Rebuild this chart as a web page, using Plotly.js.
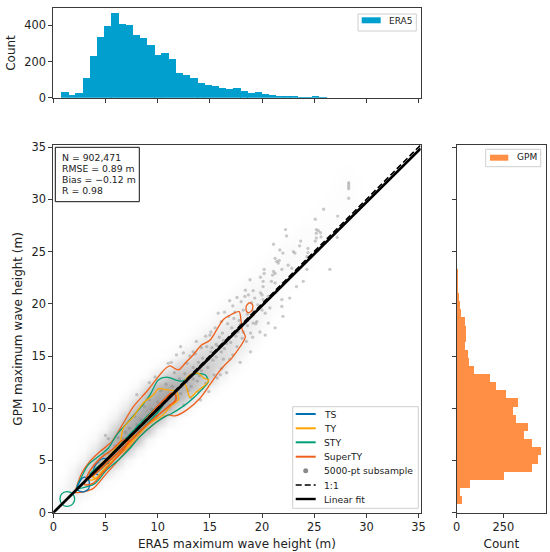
<!DOCTYPE html>
<html><head><meta charset="utf-8">
<script src="https://cdn.plot.ly/plotly-3.0.1.min.js"></script>
<style>html,body{margin:0;padding:0;background:#fff}#c{width:550px;height:552px}</style>
</head><body><div id="c"></div>
<script>
const eraCenters=[1.11,1.80,2.48,3.17,3.86,4.54,5.23,5.92,6.60,7.29,7.97,8.66,9.35,10.03,10.72,11.41,12.09,12.78,13.46,14.15,14.84,15.52,16.21,16.90,17.58,18.27,18.95,19.64,20.33,21.01,21.70,22.39,23.07,23.76,24.44,25.13,25.82,26.50,27.19,27.88];
const eraCounts=[31,15,25,110,228,335,396,470,407,404,346,332,289,238,245,212,138,125,107,81,68,66,52,46,53,37,28,31,20,15,9,7,7,3,2,9,4,1,1,1];
const gpmCenters=[1.24,2.01,2.79,3.56,4.34,5.11,5.89,6.66,7.44,8.21,8.99,9.76,10.54,11.31,12.09,12.86,13.64,14.41,15.19,15.96,16.74,17.51,18.29,19.06,19.84,20.61,21.39,22.16,22.94,23.71,24.49,25.26,26.04,26.81,27.59,28.36,29.14,29.91,30.69,31.46];
const gpmCounts=[29,16,73,255,402,434,450,403,362,384,316,302,327,262,212,179,91,68,59,43,48,50,43,25,18,10,8,6,5,4,3,2,2,2,3,3,1,1,1,1];

// Background density: one row per integer y, first number = first integer x of the row.
const hazeRows=[
[0,8,3],[0,6,15,6],[1,10,25,10],[1,3,20,45,25,4],[2,12,45,70,40,8],[2,2,15,60,85,55,10],[3,4,25,75,95,65,12],
[3,1,8,40,88,100,70,12],[4,2,12,55,95,100,70,15],[5,3,18,65,98,100,75,20,3],[6,5,25,70,100,100,85,35,6],
[7,6,30,75,95,100,85,45,10,1],[8,8,40,75,90,90,80,50,14,2],[9,6,30,60,70,72,65,50,14,2],[10,4,16,45,55,58,52,38,12,2],
[11,3,10,30,44,46,42,30,10],[12,2,8,26,36,38,34,22,6],[13,2,7,20,28,30,26,12,3],[14,2,6,16,22,24,18,6,1],
[15,2,6,12,18,18,10,3],[16,2,6,10,14,12,6,2],[17,2,6,10,11,8,3],[18,2,6,8,9,6,2],[19,2,5,7,7,4,1],[20,2,4,6,6,3,1],
[21,2,4,5,4,2],[22,2,3,4,3,1],[23,1,3,3,3,1],[24,1,2,3,2,1],[25,1,2,3,2],[26,1,2,3,1],[27,1,3,1],[27,1,2,1],[28,1]];

const subsamplePoints=[[28.3,31.6],[28.3,31.4],[28.3,31.2],[28.3,31.0],[28.3,30.1],[25.9,29.05],[27.25,28.4],[25.1,28.1],[22.25,27.1],[22.35,26.5],[25.2,27.1],[25.4,27],[25.6,26.8],[25.2,26.75],[25.65,26.4],[25.2,26.3],[25.1,26],[27.2,26.35],[26.5,23.3],[21.1,25.7],[23.7,26],[23.6,25.55],[21.7,25.15],[22,24.85],[23,25],[23.15,24.85],[24.4,25.3],[24.4,24.9],[24.3,24.5],[21.25,24.35],[21.4,24.05],[21.55,23.9],[21.65,24.15],[22.5,23.7],[22.85,23.4],[24.3,23.3],[20.2,23.3],[21.9,23.3],[21.1,23.1],[21.25,22.9],[21,22.75],[20.2,22.9],[19.85,22.55],[18.85,22.3],[20.1,22.15],[20.9,22.15],[21.25,22],[22,22],[23.95,22.15],[23.3,21.65],[20.1,21.65],[19.85,21.05],[19.15,21.25],[20,20.85],[20.1,20.4],[18.7,20.85],[18.35,20.7],[19.3,20.55],[20.6,20.7],[21.9,20.4],[22.65,20.55],[21.9,19.75],[20.75,19.6],[22,18.8],[20.6,18.15],[19.5,18.3],[19.15,18.15],[18,20.2],[21.25,17.7],
[5,7.4],[5.27,7.1],[8,11.3],[9.2,12.46],[9.75,13],[11,14.3],[11.3,14.4],[11.8,15.1],[12.46,15.3],[13.4,15.4],[14.6,16.9],[15.1,17.3],[13.7,16.4],[12.2,15.9],[16.4,19.2],[17.2,19.8],[15.8,19.1],[16.9,20.3],[17.6,20.6],[18.2,19.4],[18.4,21.3],[17.3,18.6],[19.6,19.9],[19.2,19.3],[20.3,19.1],[19.8,17.3],[19.1,16.8],[18.6,17.9],[20.3,17],[18.9,15.4],[17.9,14.4],[16.6,13.4],[17.2,15.1],[16.3,14.7],[15.7,12.9],[14.9,11.6],[14.1,10.8],[18.1,16.7],[17.7,17.3],[18.6,18.4],[17.1,17.7],[16.7,18.1],[16.2,17.2],[15.6,16.1],[15.9,16.8],[16.6,16.2],[16.1,15.4],[15.3,14.6],[15.1,15.4],[14.7,15.9],[14.3,14.8],[14.2,13.6],[13.8,12.6],[13.2,12.1],[13.9,14.4],[13.4,13.9],[12.8,14.3],[12.6,13.3],[12.1,12.8],[11.6,13.4],[12.2,11.4],[11.7,10.9],[11.1,10.2],[11.4,12.1],[10.8,12.3],[10.3,11.7],[10.6,10.7],[9.9,9.2],[9.4,9.9],[9.2,10.8],[8.7,10.2],[8.4,8.9],[8.2,7.7],[7.8,9.2],[7.3,8.1],[6.9,7.7],[6.6,6.4],[6.2,7.2],[5.9,6.4],[5.3,5.7],[4.8,5.6],[4.3,4.8],[13.1,15],[13.6,15.2],[14.2,15.8],[15,17],[15.5,17.7],[16.1,18.3],[16.8,18.8],[17.4,19.2],[17.8,18.4],[18.2,17.3],[18.5,16.4],[17.6,15.9],[16.9,14.7],[16.1,13.8],[15.4,13.2],[14.6,12.4],[13.9,11.6],[13.2,11],[12.5,10.3],[12.9,11.7],[13.4,12.8],[14,13.1],[14.8,13.9],[15.6,14.9],[16.4,15.7],[17,16.3],[17.5,16.9],[16,13.2],[19.4,18.1],[18.9,17.2],[20,19.4],[19,20.1],[18.6,19],[17.9,18],[17.3,17.2],[16.8,16.8],[16.3,16.5],[15.8,15.9],[15.2,15.8],[14.9,14.7],[14.4,14.2],[13.7,13.6],[13.3,13.2],[12.8,12.5],[12.3,12.1],[11.8,11.7],[11.3,11.2],[10.9,11],[10.4,10.2],[10,10.6],[9.6,9.4],[9,9.2],[8.6,8.5],[8,8.4],[7.6,7.4],[7.2,7],[6.7,7.1],[6.3,6.1],[5.8,5.6]];

const tsInner=[[3.85,4.1],[4.3,4.9],[4.8,5.2],[5.27,5.05],[5.27,4.6],[4.8,3.93],[4.3,3.6],[3.85,4.1]];
const tsOuter=[[2.3,2.2],[2.5,2.9],[2.95,3.4],[3.4,3.1],[3.4,2.3],[2.9,2.0],[2.3,2.2]];
const tyOuter=[[3.5,3.45],[4.3,4.4],[5.27,5.37],[6.4,6.8],[6.7,8.08],[7.67,9.2],[8.6,10.48],[9.58,11.28],[10.06,11.85],[11,11.75],[11.8,11.6],[12,10.8],[11.34,10.3],[10.5,9.36],[9.27,8.56],[8,7.28],[6.7,5.85],[5.43,4.73],[4.15,3.3],[3.5,3.13],[3.5,3.45]];
const tyInner=[[3.8,3.4],[4.2,4.0],[5,4.9],[6,5.9],[7,6.8],[7.7,7.45],[7.65,7.05],[6.8,6.1],[5.7,5.0],[4.7,4.0],[4.1,3.3],[3.8,3.4]];
const tyIsland=[[12.6,12.55],[13.1,13.2],[13.9,13.35],[14.4,12.9],[14.9,12.7],[14.4,12.1],[13.75,11.6],[13.1,11.05],[12.8,11.9],[12.6,12.55]];
const styOuter=[[2.24,2.33],[2.72,3.45],[3.35,4.57],[4.3,5.37],[5.27,6.17],[6.07,7.44],[7.19,8.72],[8.3,10],[9.27,11.28],[10.06,12.7],[10.86,12.97],[12.3,12.6],[13.58,13.3],[14.54,13.2],[14.86,12.56],[14.2,11.76],[13.4,10.96],[12.46,10.2],[11.34,9.5],[10.7,9.2],[9.74,8.56],[8.3,7.28],[7.35,6.17],[6.23,5.05],[5.1,4.09],[4,2.8],[2.88,2.4],[2.24,2.33]];
const styInner=[[3.5,3.7],[5,5],[6.5,6.6],[8,8.2],[9.5,9.7],[10.3,10.4],[10.45,10.25],[10,9.6],[8.5,8],[7,6.5],[5.5,5.1],[4.2,3.9],[3.5,3.7]];
const styLow=[[0.64,1.3],[0.8,1.8],[1.3,2.02],[1.85,1.8],[2.05,1.3],[1.85,0.82],[1.35,0.6],[0.85,0.8],[0.64,1.3]];
const superOuter=[[2.08,2.0],[2.72,3.77],[3.5,4.9],[4.47,5.85],[5.6,6.8],[6.7,8.56],[7.67,10.16],[8.95,11.6],[10.2,13.2],[10.86,13.9],[11.2,14.05],[11.97,13.67],[12.8,14.5],[13.4,15.1],[14.2,16.05],[15,16.5],[15.65,17.5],[16.3,18.5],[17.1,19],[17.8,19.25],[18,18.3],[18.1,17.5],[18.4,16.85],[18.1,16.2],[17.7,15.6],[17.1,14.8],[16.3,14],[15.65,13.2],[15,12.25],[14.05,10.96],[12.8,9.84],[11.66,9.27],[11,9.36],[10.2,8.9],[8.6,7.6],[7.67,6.65],[6.4,5.2],[5.1,3.77],[3.83,2.33],[2.9,2],[2.08,1.92]];
const superMid=[[3,2.7],[3.5,4],[4.5,5.2],[5.6,6],[6.6,6.9],[7.2,7],[6.8,6.1],[5.8,5],[4.8,3.9],[3.8,2.8],[3,2.7]];
const superInner=[[3.5,3.4],[4.2,4.2],[5.5,5.4],[7,6.95],[8.5,8.5],[10,10.2],[10.8,11.0],[11.3,11.45],[11.7,11.3],[11.75,10.8],[11.2,10.3],[10,9.3],[8.5,8],[7,6.5],[5.5,5.1],[4.2,3.9],[3.5,3.4]];
const superIsland=[[18.5,19.3],[18.5,19.8],[18.8,20.1],[19.1,19.9],[19.05,19.4],[18.75,19.15],[18.5,19.3]];

const identityLine=[[0,0],[35.2,35.2]];
const fitLine=[[0,0],[35.2,34.87]];
const contourLabels=['TS','TY','STY','SuperTY'];
const contourColors=['#0072B2','#FFA500','#00A077','#EE5F1B'];
const statsLines=['N = 902,471','RMSE = 0.89 m','Bias = \u22120.12 m','R = 0.98'];
const axisTicks=[0,5,10,15,20,25,30,35];

const hazeGrid=[];for(let i=0;i<=34;i++)hazeGrid.push(i);
const hazeDensity=hazeGrid.map((_,r)=>{const row=hazeGrid.map(()=>0),src=hazeRows[r];
  if(src)src.slice(1).forEach((v,k)=>{row[src[0]+k]=v;});return row;});

const W=550,H=552;
const px=v=>v/W, py=v=>1-v/H;
const FONT='"DejaVu Sans", sans-serif';
const INK='#3a3a3a';
const X=a=>a.map(p=>p[0]), Y=a=>a.map(p=>p[1]);
function contour(a,color,w){return {type:'scatter',mode:'lines',x:X(a),y:Y(a),xaxis:'x',yaxis:'y',
  line:{color:color,width:w||1.3,shape:'spline',smoothing:0.8},hoverinfo:'skip',showlegend:false};}

const traces=[
 {type:'heatmap',x:hazeGrid,y:hazeGrid,z:hazeDensity,xaxis:'x',yaxis:'y',zsmooth:'best',zmin:0,zmax:100,
  colorscale:[[0,'#ffffff'],[1,'#a6a6a6']],showscale:false,hoverinfo:'skip'},
 {type:'scatter',mode:'markers',x:X(subsamplePoints),y:Y(subsamplePoints),xaxis:'x',yaxis:'y',
  marker:{color:'#808080',size:3.3,opacity:0.42},hoverinfo:'skip',showlegend:false},
 contour(superOuter,contourColors[3]),contour(superIsland,contourColors[3]),
 contour(styOuter,contourColors[2]),contour(styLow,contourColors[2]),
 contour(tyOuter,contourColors[1]),contour(tyIsland,contourColors[1]),
 contour(tsOuter,contourColors[0]),contour(tsInner,contourColors[0]),
 contour(styInner,contourColors[2],1.6),contour(tyInner,contourColors[1],1.6),
 contour(superMid,contourColors[3],1.5),contour(superInner,contourColors[3],1.8),
 {type:'scatter',mode:'lines',x:X(identityLine),y:Y(identityLine),xaxis:'x',yaxis:'y',line:{color:'#000',width:1.6,dash:'6px,3px'},hoverinfo:'skip',showlegend:false},
 {type:'scatter',mode:'lines',x:X(fitLine),y:Y(fitLine),xaxis:'x',yaxis:'y',line:{color:'#000',width:2.7},hoverinfo:'skip',showlegend:false},
 {type:'bar',x:eraCenters,y:eraCounts,width:0.72,xaxis:'x2',yaxis:'y2',marker:{color:'#009FCE',line:{width:0}},name:'ERA5',showlegend:false},
 {type:'bar',orientation:'h',y:gpmCenters,x:gpmCounts,width:0.81,xaxis:'x3',yaxis:'y3',marker:{color:'#FF8F45',line:{width:0}},name:'GPM',showlegend:false}
];

const box=(x0,y0,x1,y1,c)=>({type:'rect',xref:'paper',yref:'paper',x0:px(x0),x1:px(x1),y0:py(y1),y1:py(y0),
  fillcolor:'rgba(255,255,255,0.85)',line:{color:c||'#cfcfcf',width:1}});
const swatch=(x0,y0,x1,y1,c)=>({type:'rect',xref:'paper',yref:'paper',x0:px(x0),x1:px(x1),y0:py(y1),y1:py(y0),fillcolor:c,line:{width:0}});
const key=(y,c,w,dash)=>({type:'line',xref:'paper',yref:'paper',x0:px(295.7),x1:px(315.7),y0:py(y),y1:py(y),line:{color:c,width:w,dash:dash||'solid'}});
const label=(x,y,t,s)=>({xref:'paper',yref:'paper',x:px(x),y:py(y),text:t,showarrow:false,xanchor:'left',yanchor:'middle',
  font:{family:FONT,size:s||9.2,color:'#222'},borderpad:0});

const rows=[414,428.3,442.3,456.7,470.7,485,499];
const statRows=[157.3,168.3,179.3,190];
const shapes=[
 box(292.7,406.7,418.3,508.3),
 key(rows[0],contourColors[0],2),key(rows[1],contourColors[1],2),key(rows[2],contourColors[2],2),key(rows[3],contourColors[3],2),
 {type:'circle',xref:'paper',yref:'paper',x0:px(303.2),x1:px(308.2),y0:py(rows[4]+2.5),y1:py(rows[4]-2.5),fillcolor:'#8a8a8a',line:{width:0}},
 key(rows[5],'#000',1.6,'6px,3px'),key(rows[6],'#000',2.4),
 box(358,14,416.3,31),swatch(361.7,17.3,380.7,23.3,'#009FCE'),
 box(485.7,149.3,540.7,166.7),swatch(490,154.7,508.3,160.7,'#FF8F45'),
 {type:'rect',xref:'paper',yref:'paper',x0:px(55.3),x1:px(139.3),y0:py(201.7),y1:py(147.3),fillcolor:'#fff',line:{color:'#111',width:1}}
];
const annotations=[
 label(322.7,rows[0],contourLabels[0]),label(322.7,rows[1],contourLabels[1]),label(322.7,rows[2],contourLabels[2]),label(322.7,rows[3],contourLabels[3]),
 label(322.7,rows[4],'5000-pt subsample'),label(322.7,rows[5],'1:1'),label(322.7,rows[6],'Linear fit'),
 label(388.3,20.7,'ERA5',9),label(516.3,157.3,'GPM',9),
 ...statsLines.map((t,i)=>label(61,statRows[i],t,9.3))
];

const axisBase={showline:true,mirror:true,linecolor:INK,linewidth:1,ticks:'outside',ticklen:4,tickwidth:1,tickcolor:INK,
  showgrid:false,zeroline:false,tickfont:{family:FONT,size:11.4,color:'#222'},automargin:false};
const ttl=(t,s)=>({text:t,font:{family:FONT,size:12,color:'#222'},standoff:s});

const layout={width:W,height:H,margin:{l:0,r:0,t:0,b:0},paper_bgcolor:'#fff',plot_bgcolor:'#fff',showlegend:false,bargap:0,
 font:{family:FONT},shapes,annotations,
 xaxis:{...axisBase,domain:[px(53.3),px(420.7)],range:[0,35.2],anchor:'y',tickvals:axisTicks,title:ttl('ERA5 maximum wave height (m)',6)},
 yaxis:{...axisBase,domain:[py(512.7),py(145)],range:[0,35.2],anchor:'x',tickvals:axisTicks,title:ttl('GPM maximum wave height (m)',6)},
 xaxis2:{...axisBase,domain:[px(53.3),px(420.7)],range:[0,35.2],anchor:'y2',tickvals:axisTicks,showticklabels:false},
 yaxis2:{...axisBase,domain:[py(97.7),py(8.3)],range:[0,494],anchor:'x2',tickvals:[0,200,400],title:ttl('Count',6)},
 xaxis3:{...axisBase,domain:[px(456.7),px(546)],range:[0,479],anchor:'y3',tickvals:[0,250],title:ttl('Count',6)},
 yaxis3:{...axisBase,domain:[py(512.7),py(145)],range:[0,35.2],anchor:'x3',tickvals:axisTicks,showticklabels:false}
};
Plotly.newPlot('c',traces,layout,{displayModeBar:false,staticPlot:true});
</script></body></html>
